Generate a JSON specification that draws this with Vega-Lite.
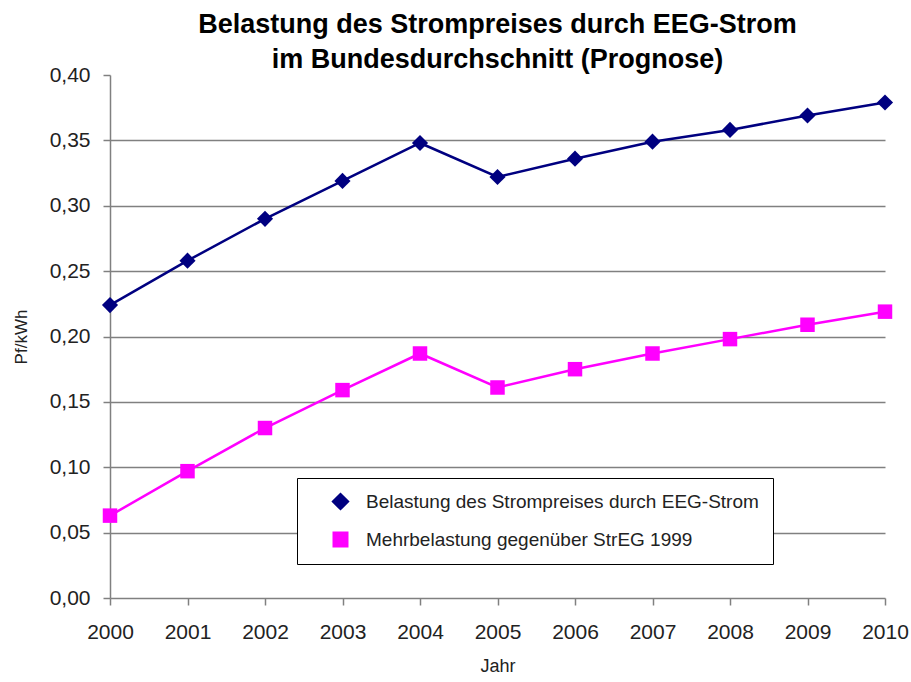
{
  "$schema": "https://vega.github.io/schema/vega-lite/v6.json",
  "autosize": "none",
  "width": 775,
  "height": 523,
  "padding": {"left": 110, "top": 75, "right": 26, "bottom": 84},
  "background": "white",
  "title": {
    "text": ["Belastung des Strompreises durch EEG-Strom", "im Bundesdurchschnitt (Prognose)"],
    "font": "Liberation Sans",
    "fontSize": 27,
    "fontWeight": "bold",
    "color": "#000000",
    "lineHeight": 35,
    "anchor": "middle",
    "offset": -10
  },
  "data": {
    "values": [
      {"Jahr": 2000, "Serie": "Belastung des Strompreises durch EEG-Strom", "Wert": 0.224},
      {"Jahr": 2001, "Serie": "Belastung des Strompreises durch EEG-Strom", "Wert": 0.258},
      {"Jahr": 2002, "Serie": "Belastung des Strompreises durch EEG-Strom", "Wert": 0.290},
      {"Jahr": 2003, "Serie": "Belastung des Strompreises durch EEG-Strom", "Wert": 0.319},
      {"Jahr": 2004, "Serie": "Belastung des Strompreises durch EEG-Strom", "Wert": 0.348},
      {"Jahr": 2005, "Serie": "Belastung des Strompreises durch EEG-Strom", "Wert": 0.322},
      {"Jahr": 2006, "Serie": "Belastung des Strompreises durch EEG-Strom", "Wert": 0.336},
      {"Jahr": 2007, "Serie": "Belastung des Strompreises durch EEG-Strom", "Wert": 0.349},
      {"Jahr": 2008, "Serie": "Belastung des Strompreises durch EEG-Strom", "Wert": 0.358},
      {"Jahr": 2009, "Serie": "Belastung des Strompreises durch EEG-Strom", "Wert": 0.369},
      {"Jahr": 2010, "Serie": "Belastung des Strompreises durch EEG-Strom", "Wert": 0.379},
      {"Jahr": 2000, "Serie": "Mehrbelastung gegenüber StrEG 1999", "Wert": 0.063},
      {"Jahr": 2001, "Serie": "Mehrbelastung gegenüber StrEG 1999", "Wert": 0.097},
      {"Jahr": 2002, "Serie": "Mehrbelastung gegenüber StrEG 1999", "Wert": 0.130},
      {"Jahr": 2003, "Serie": "Mehrbelastung gegenüber StrEG 1999", "Wert": 0.159},
      {"Jahr": 2004, "Serie": "Mehrbelastung gegenüber StrEG 1999", "Wert": 0.187},
      {"Jahr": 2005, "Serie": "Mehrbelastung gegenüber StrEG 1999", "Wert": 0.161},
      {"Jahr": 2006, "Serie": "Mehrbelastung gegenüber StrEG 1999", "Wert": 0.175},
      {"Jahr": 2007, "Serie": "Mehrbelastung gegenüber StrEG 1999", "Wert": 0.187},
      {"Jahr": 2008, "Serie": "Mehrbelastung gegenüber StrEG 1999", "Wert": 0.198},
      {"Jahr": 2009, "Serie": "Mehrbelastung gegenüber StrEG 1999", "Wert": 0.209},
      {"Jahr": 2010, "Serie": "Mehrbelastung gegenüber StrEG 1999", "Wert": 0.219}
    ]
  },
  "encoding": {
    "x": {
      "field": "Jahr",
      "type": "quantitative",
      "scale": {"domain": [2000, 2010], "nice": false, "zero": false},
      "axis": {
        "title": "Jahr",
        "values": [2000, 2001, 2002, 2003, 2004, 2005, 2006, 2007, 2008, 2009, 2010],
        "format": "d",
        "grid": false,
        "labelFlush": false,
        "labelOverlap": false,
        "tickSize": 7,
        "labelPadding": 16,
        "labelFontSize": 21,
        "titleFontSize": 18,
        "titlePadding": 15,
        "titleFontWeight": "normal"
      }
    },
    "y": {
      "field": "Wert",
      "type": "quantitative",
      "scale": {"domain": [0, 0.4], "nice": false},
      "axis": {
        "title": "Pf/kWh",
        "values": [0, 0.05, 0.1, 0.15, 0.2, 0.25, 0.3, 0.35, 0.4],
        "labelExpr": "replace(format(datum.value, '.2f'), '.', ',')",
        "labelFlush": false,
        "labelOverlap": false,
        "tickSize": 7,
        "labelPadding": 13,
        "labelFontSize": 21,
        "titleFontSize": 17,
        "titleFontWeight": "normal",
        "titlePadding": 19,
        "gridOpacity": {"condition": {"test": "datum.value >= 0.39 || datum.value <= 0.01", "value": 0}, "value": 1}
      }
    },
    "color": {
      "field": "Serie",
      "type": "nominal",
      "scale": {
        "domain": ["Belastung des Strompreises durch EEG-Strom", "Mehrbelastung gegenüber StrEG 1999"],
        "range": ["#000080", "#FF00FF"]
      },
      "legend": {
        "title": null,
        "orient": "none",
        "legendX": 187,
        "legendY": 403,
        "strokeColor": "#000000",
        "fillColor": "#ffffff",
        "padding": 14,
        "rowPadding": 16,
        "labelFontSize": 19,
        "labelColor": "#222222",
        "labelFont": "Liberation Sans",
        "symbolSize": 110,
        "symbolOffset": 20,
        "labelOffset": 16,
        "labelLimit": 500
      }
    }
  },
  "layer": [
    {
      "mark": {"type": "line", "strokeWidth": 2.5}
    },
    {
      "mark": {"type": "point", "filled": true, "opacity": 1},
      "encoding": {
        "shape": {
          "field": "Serie",
          "type": "nominal",
          "scale": {
            "domain": ["Belastung des Strompreises durch EEG-Strom", "Mehrbelastung gegenüber StrEG 1999"],
            "range": ["diamond", "square"]
          },
          "legend": {
            "title": null,
            "orient": "none",
            "legendX": 187,
            "legendY": 403,
            "strokeColor": "#000000",
            "fillColor": "#ffffff",
            "padding": 14,
            "rowPadding": 16,
            "labelFontSize": 19,
            "labelColor": "#222222",
            "labelFont": "Liberation Sans",
            "symbolSize": 110,
            "symbolOffset": 20,
            "labelOffset": 16,
            "labelLimit": 500
          }
        },
        "size": {
          "field": "Serie",
          "type": "nominal",
          "scale": {
            "domain": ["Belastung des Strompreises durch EEG-Strom", "Mehrbelastung gegenüber StrEG 1999"],
            "range": [260, 210]
          },
          "legend": null
        }
      }
    }
  ],
  "config": {
    "view": {"stroke": null},
    "font": "Liberation Sans",
    "axis": {
      "labelFont": "Liberation Sans",
      "titleFont": "Liberation Sans",
      "labelColor": "#222222",
      "titleColor": "#222222",
      "domainColor": "#808080",
      "domainWidth": 1.5,
      "tickColor": "#808080",
      "tickWidth": 1.5,
      "gridColor": "#808080",
      "gridWidth": 1.5
    }
  }
}
